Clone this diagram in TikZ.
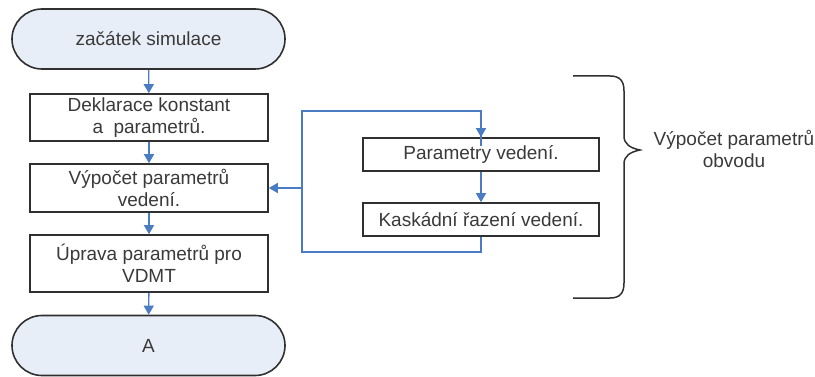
\documentclass[tikz,border=0pt]{standalone}
\usepackage{fontspec}
\setmainfont{Liberation Sans}
\usetikzlibrary{arrows.meta,shapes.misc}
\definecolor{termfill}{HTML}{E8EEF8}
\definecolor{flowblue}{HTML}{4A7CC4}
\definecolor{txtgray}{HTML}{3A3A3A}
\definecolor{boxgray}{HTML}{303030}
\tikzset{
  term/.style={rounded rectangle, draw=boxgray, line width=1.6pt, fill=termfill,
    minimum width=273pt, minimum height=60pt, inner sep=0pt, text=txtgray,
    font=\fontsize{19}{22}\selectfont},
  stepbox/.style={rectangle, draw=boxgray, line width=1.6pt, fill=white,
    minimum width=238pt, inner sep=0pt, text=txtgray, align=center,
    font=\fontsize{19}{22}\selectfont},
  flow/.style={draw=flowblue, line width=1.4pt, -{Triangle[width=10pt,length=9pt]}},
  flowline/.style={draw=flowblue, line width=1.4pt},
  brace/.style={draw=boxgray, line width=1.5pt},
  lbl/.style={text=txtgray, align=center, font=\fontsize{19}{22}\selectfont}
}
\begin{document}
\begin{tikzpicture}[x=1pt,y=-1pt]
\useasboundingbox (0,0) rectangle (815,377);
\node[term] (start) at (148.5,39) {začátek simulace};
\node[stepbox, minimum height=47pt] (dek) at (149,117.5) {Deklarace konstant\\a~ parametrů.};
\node[stepbox, minimum height=48pt] (vyp) at (149,188) {Výpočet parametrů\\vedení.};
\node[stepbox, minimum height=57pt] (upr) at (149,263.5) {Úprava parametrů pro\\VDMT};
\node[term] (konec) at (148.5,345.5) {A};
\node[stepbox, minimum width=236pt, minimum height=33pt] (par) at (481,154.5) {Parametry vedení.};
\node[stepbox, minimum width=236pt, minimum height=33pt] (kas) at (481,219.5) {Kaskádní řazení vedení.};
\coordinate (lb) at (302,252);
\coordinate (lt) at (302,111);
\coordinate (lm) at (302,188);
\draw[flow] (start) -- (dek);
\draw[flow] (dek) -- (vyp);
\draw[flow] (vyp) -- (upr);
\draw[flow] (upr) -- (konec);
\draw[flow] (par) -- (kas);
\draw[flowline] (kas.south) |- (lb) -- (lt) -| ([yshift=-9pt]par.north);
\draw[flow] ([yshift=-12pt]par.north |- lt) -- (par.north);
\draw[flow] (lm) -- (vyp.east);
\draw[brace] (573,76) -- (610,76) .. controls (620,76) and (624,81) .. (624,91)
  -- (624,136) .. controls (624,144) and (630,148) .. (640,150)
  .. controls (630,152) and (624,156) .. (624,164)
  -- (624,283) .. controls (624,293) and (620,298) .. (610,298) -- (573,298);
\node[lbl] (obvod) at (734,149) {Výpočet parametrů\\obvodu};
\end{tikzpicture}
\end{document}
